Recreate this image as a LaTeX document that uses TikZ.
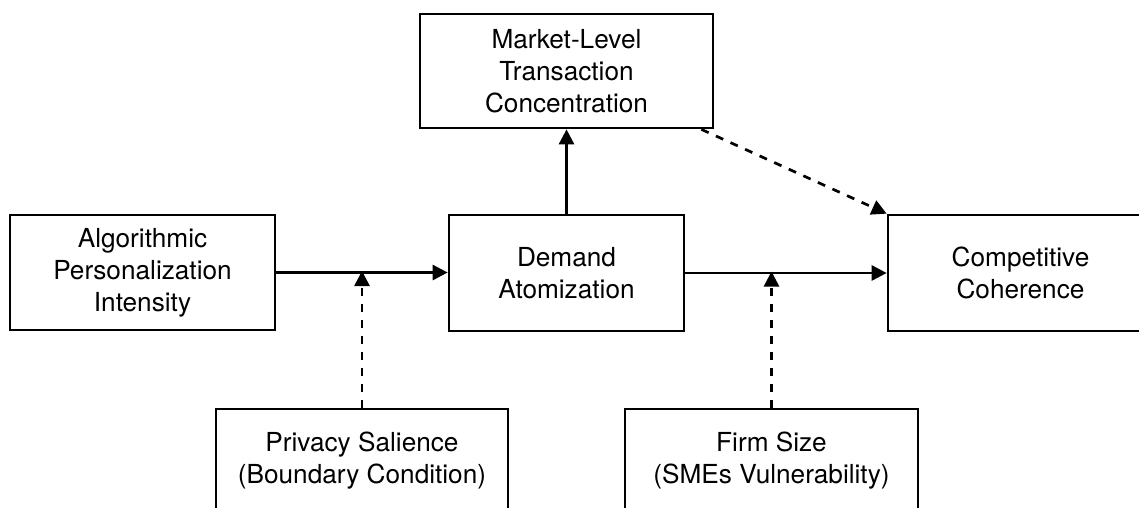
\documentclass[tikz,border=0pt]{standalone}
\usepackage{fontspec}
\setmainfont{TeX Gyre Heros}
\usetikzlibrary{arrows.meta,calc}

\begin{document}
\begin{tikzpicture}[x=1pt,y=-1pt,
  box/.style={draw=black, line width=2.7pt, rectangle, align=center,
    inner sep=0pt, font=\fontsize{26.2}{32}\selectfont},
  link/.style={line width=2.7pt, -{Triangle[length=15pt,width=15pt]}},
  modlink/.style={link, dash pattern=on 8pt off 8pt}]
  \useasboundingbox (0,0) rectangle (1139,507);

  % main chain
  \node[box, minimum width=265pt, minimum height=115pt] (algo) at (142.5,272.5)
    {Algorithmic\\Personalization\\Intensity};
  \node[box, minimum width=235pt, minimum height=116pt] (dem) at (566.5,273)
    {Demand\\Atomization};
  \node[box, minimum width=265pt, minimum height=116pt] (comp) at (1020.5,273)
    {Competitive\\Coherence};
  \node[box, minimum width=293pt, minimum height=114pt] (mkt) at (566.5,71)
    {Market-Level\\Transaction\\Concentration};

  % moderators
  \node[box, minimum width=292pt, minimum height=104pt] (priv) at (362,461)
    {Privacy Salience\\(Boundary Condition)};
  \node[box, minimum width=293pt, minimum height=104pt] (firm) at (771.5,461)
    {Firm Size\\(SMEs Vulnerability)};

  % points on the main paths hit by the moderators
  \coordinate (m1) at (priv.north |- algo.east);
  \coordinate (m2) at (firm.north |- dem.east);
  \coordinate (d0) at ($(mkt.south east)+(-13,0)$);

  \draw[link] (algo.east) -- (dem.west |- algo.east);
  \draw[link] (dem.east) -- (comp.west);
  \draw[link] (dem.north) -- (mkt.south);
  \draw[modlink] (priv.north) -- ([yshift=1.5pt]m1);
  \draw[modlink] (firm.north) -- ([yshift=1.5pt]m2);
  \draw[modlink] (d0) -- (comp.north west);
\end{tikzpicture}
\end{document}
